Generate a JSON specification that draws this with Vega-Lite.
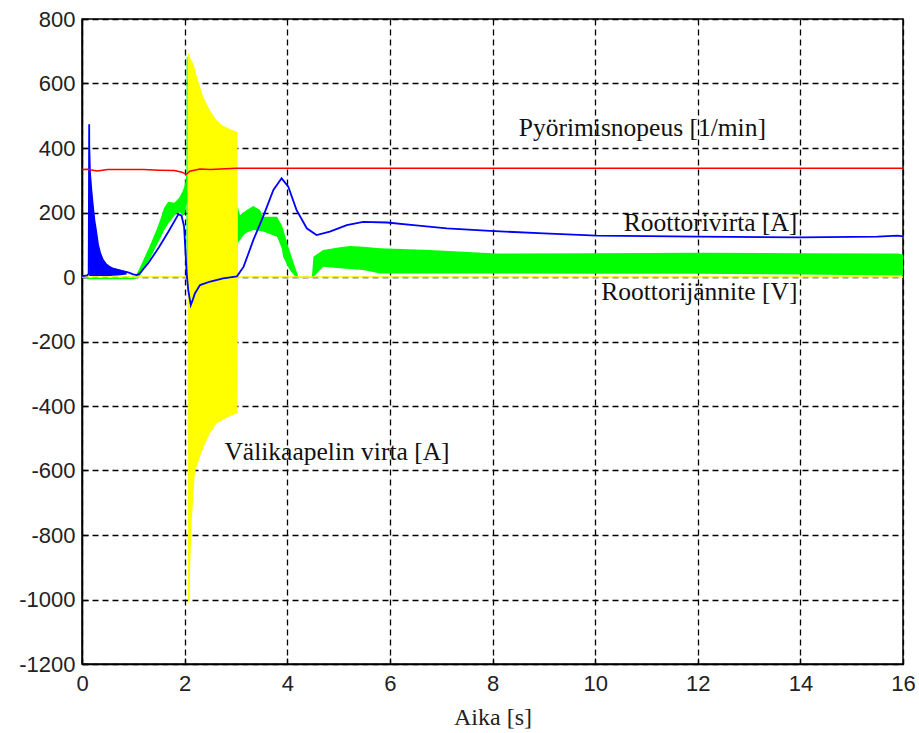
{
  "$schema": "https://vega.github.io/schema/vega-lite/v6.json",
  "width": 821,
  "height": 645,
  "autosize": {"type": "none"},
  "padding": {"left": 82, "top": 19, "right": 16, "bottom": 69},
  "background": "white",
  "config": {
    "view": {"stroke": "black", "strokeWidth": 1.5},
    "axis": {
      "domainColor": "black", "domainWidth": 1.5,
      "grid": true, "gridColor": "black", "gridDash": [6, 4], "gridWidth": 1.3, "gridOpacity": 1,
      "tickColor": "black", "tickSize": -6, "tickWidth": 1.3,
      "labelFont": "Liberation Sans", "labelFontSize": 22, "labelColor": "#222",
      "titleFont": "Liberation Serif", "titleFontSize": 24, "titleFontWeight": "normal", "titleColor": "#222"
    }
  },
  "datasets": {
    "lines": [
      {"s": "red", "t": 0, "v": 333}, {"s": "red", "t": 0.1, "v": 334}, {"s": "red", "t": 0.3, "v": 329}, {"s": "red", "t": 0.5, "v": 333},
      {"s": "red", "t": 1.2, "v": 333}, {"s": "red", "t": 1.5, "v": 331}, {"s": "red", "t": 1.8, "v": 330}, {"s": "red", "t": 1.95, "v": 325},
      {"s": "red", "t": 2.03, "v": 318}, {"s": "red", "t": 2.1, "v": 328}, {"s": "red", "t": 2.3, "v": 335}, {"s": "red", "t": 2.5, "v": 333},
      {"s": "red", "t": 2.7, "v": 335}, {"s": "red", "t": 3.0, "v": 337}, {"s": "red", "t": 16, "v": 337},
      {"s": "yellow", "t": 0, "v": 0}, {"s": "yellow", "t": 16, "v": 0},
      {"s": "blue", "t": 0, "v": 3}, {"s": "blue", "t": 0.1, "v": 5}, {"s": "blue", "t": 0.13, "v": 10}, {"s": "blue", "t": 0.14, "v": 474},
      {"s": "blue", "t": 0.15, "v": 30}, {"s": "blue", "t": 0.6, "v": 25}, {"s": "blue", "t": 0.9, "v": 14}, {"s": "blue", "t": 1.0, "v": 8},
      {"s": "blue", "t": 1.07, "v": 6}, {"s": "blue", "t": 1.12, "v": 10}, {"s": "blue", "t": 1.3, "v": 45}, {"s": "blue", "t": 1.5, "v": 92},
      {"s": "blue", "t": 1.7, "v": 145}, {"s": "blue", "t": 1.88, "v": 195}, {"s": "blue", "t": 1.94, "v": 190}, {"s": "blue", "t": 1.99, "v": 156},
      {"s": "blue", "t": 2.04, "v": 11}, {"s": "blue", "t": 2.07, "v": -40}, {"s": "blue", "t": 2.12, "v": -87}, {"s": "blue", "t": 2.16, "v": -70},
      {"s": "blue", "t": 2.2, "v": -51}, {"s": "blue", "t": 2.3, "v": -25}, {"s": "blue", "t": 2.5, "v": -14}, {"s": "blue", "t": 2.75, "v": -4}, {"s": "blue", "t": 3.02, "v": 2},
      {"s": "blue", "t": 3.15, "v": 32}, {"s": "blue", "t": 3.34, "v": 115}, {"s": "blue", "t": 3.53, "v": 187}, {"s": "blue", "t": 3.73, "v": 270},
      {"s": "blue", "t": 3.89, "v": 306}, {"s": "blue", "t": 4.02, "v": 280}, {"s": "blue", "t": 4.18, "v": 208}, {"s": "blue", "t": 4.38, "v": 151},
      {"s": "blue", "t": 4.57, "v": 130}, {"s": "blue", "t": 4.83, "v": 141}, {"s": "blue", "t": 5.16, "v": 161}, {"s": "blue", "t": 5.48, "v": 171},
      {"s": "blue", "t": 5.94, "v": 169}, {"s": "blue", "t": 6.46, "v": 161}, {"s": "blue", "t": 7.11, "v": 151}, {"s": "blue", "t": 7.95, "v": 143},
      {"s": "blue", "t": 9, "v": 135}, {"s": "blue", "t": 10.03, "v": 128}, {"s": "blue", "t": 12, "v": 125}, {"s": "blue", "t": 14, "v": 123},
      {"s": "blue", "t": 15.5, "v": 125}, {"s": "blue", "t": 15.9, "v": 128}, {"s": "blue", "t": 16, "v": 126}
    ],
    "bands": [
      {"s": "blue", "t": 0.14, "lo": 3, "hi": 474}, {"s": "blue", "t": 0.15, "lo": 3, "hi": 440}, {"s": "blue", "t": 0.17, "lo": 3, "hi": 330},
      {"s": "blue", "t": 0.2, "lo": 3, "hi": 270}, {"s": "blue", "t": 0.23, "lo": 3, "hi": 220}, {"s": "blue", "t": 0.26, "lo": 3, "hi": 175},
      {"s": "blue", "t": 0.29, "lo": 3, "hi": 146}, {"s": "blue", "t": 0.33, "lo": 3, "hi": 100}, {"s": "blue", "t": 0.37, "lo": 3, "hi": 75},
      {"s": "blue", "t": 0.42, "lo": 3, "hi": 55}, {"s": "blue", "t": 0.48, "lo": 3, "hi": 42}, {"s": "blue", "t": 0.55, "lo": 3, "hi": 33},
      {"s": "blue", "t": 0.61, "lo": 4, "hi": 29}, {"s": "blue", "t": 0.7, "lo": 5, "hi": 25}, {"s": "blue", "t": 0.8, "lo": 6, "hi": 20},
      {"s": "blue", "t": 0.87, "lo": 8, "hi": 16},
      {"s": "green", "t": 0.1, "lo": -7, "hi": -2}, {"s": "green", "t": 1.0, "lo": -7, "hi": -2}, {"s": "green", "t": 1.05, "lo": -5, "hi": 5},
      {"s": "green", "t": 1.13, "lo": 5, "hi": 30}, {"s": "green", "t": 1.26, "lo": 40, "hi": 75}, {"s": "green", "t": 1.33, "lo": 58, "hi": 100},
      {"s": "green", "t": 1.46, "lo": 100, "hi": 150}, {"s": "green", "t": 1.52, "lo": 118, "hi": 175}, {"s": "green", "t": 1.6, "lo": 145, "hi": 215},
      {"s": "green", "t": 1.68, "lo": 165, "hi": 233}, {"s": "green", "t": 1.8, "lo": 190, "hi": 230}, {"s": "green", "t": 1.85, "lo": 198, "hi": 238},
      {"s": "green", "t": 1.91, "lo": 200, "hi": 250}, {"s": "green", "t": 1.97, "lo": 190, "hi": 270}, {"s": "green", "t": 2.01, "lo": 200, "hi": 290},
      {"s": "green", "t": 2.035, "lo": 230, "hi": 320}, {"s": "green", "t": 2.04, "lo": 0, "hi": 683}, {"s": "green", "t": 2.058, "lo": 0, "hi": 683},
      {"s": "green", "t": 2.062, "lo": 0, "hi": 0}, {"s": "green", "t": 3.02, "lo": 0, "hi": 0}, {"s": "green", "t": 3.025, "lo": 0, "hi": 218},
      {"s": "green", "t": 3.035, "lo": 104, "hi": 218}, {"s": "green", "t": 3.08, "lo": 115, "hi": 192}, {"s": "green", "t": 3.15, "lo": 130, "hi": 200},
      {"s": "green", "t": 3.21, "lo": 138, "hi": 208}, {"s": "green", "t": 3.34, "lo": 146, "hi": 220}, {"s": "green", "t": 3.47, "lo": 143, "hi": 208},
      {"s": "green", "t": 3.53, "lo": 141, "hi": 187}, {"s": "green", "t": 3.8, "lo": 125, "hi": 187}, {"s": "green", "t": 3.89, "lo": 90, "hi": 161},
      {"s": "green", "t": 3.92, "lo": 63, "hi": 150}, {"s": "green", "t": 4.02, "lo": 30, "hi": 94}, {"s": "green", "t": 4.05, "lo": 22, "hi": 80},
      {"s": "green", "t": 4.15, "lo": 2, "hi": 32}, {"s": "green", "t": 4.22, "lo": -3, "hi": 0}, {"s": "green", "t": 4.48, "lo": -3, "hi": 0},
      {"s": "green", "t": 4.51, "lo": 0, "hi": 63}, {"s": "green", "t": 4.7, "lo": 32, "hi": 84}, {"s": "green", "t": 5.03, "lo": 27, "hi": 92},
      {"s": "green", "t": 5.22, "lo": 25, "hi": 96}, {"s": "green", "t": 5.48, "lo": 22, "hi": 94}, {"s": "green", "t": 5.81, "lo": 11, "hi": 89},
      {"s": "green", "t": 6.78, "lo": 11, "hi": 84}, {"s": "green", "t": 8.08, "lo": 11, "hi": 73}, {"s": "green", "t": 10, "lo": 10, "hi": 74},
      {"s": "green", "t": 12, "lo": 10, "hi": 75}, {"s": "green", "t": 14, "lo": 8, "hi": 74}, {"s": "green", "t": 15.9, "lo": 5, "hi": 73},
      {"s": "green", "t": 16, "lo": 5, "hi": 70},
      {"s": "yellow", "t": 2.058, "lo": 0, "hi": 0}, {"s": "yellow", "t": 2.065, "lo": -1011, "hi": 695}, {"s": "yellow", "t": 2.1, "lo": -1000, "hi": 690},
      {"s": "yellow", "t": 2.105, "lo": -908, "hi": 680}, {"s": "yellow", "t": 2.14, "lo": -753, "hi": 668}, {"s": "yellow", "t": 2.17, "lo": -680, "hi": 662},
      {"s": "yellow", "t": 2.2, "lo": -608, "hi": 645}, {"s": "yellow", "t": 2.23, "lo": -590, "hi": 626}, {"s": "yellow", "t": 2.3, "lo": -557, "hi": 590},
      {"s": "yellow", "t": 2.36, "lo": -530, "hi": 559}, {"s": "yellow", "t": 2.49, "lo": -485, "hi": 518}, {"s": "yellow", "t": 2.62, "lo": -455, "hi": 487},
      {"s": "yellow", "t": 2.72, "lo": -445, "hi": 471}, {"s": "yellow", "t": 2.88, "lo": -432, "hi": 459}, {"s": "yellow", "t": 3.03, "lo": -422, "hi": 450},
      {"s": "yellow", "t": 3.04, "lo": 0, "hi": 0}
    ],
    "labels": [
      {"t": 10.92, "v": 462, "txt": "Pyörimisnopeus [1/min]"},
      {"t": 12.25, "v": 166, "txt": "Roottorivirta [A]"},
      {"t": 12.03, "v": -47, "txt": "Roottorijännite [V]"},
      {"t": 4.97, "v": -543, "txt": "Välikaapelin virta [A]"}
    ]
  },
  "encoding": {
    "x": {"field": "t", "type": "quantitative", "scale": {"domain": [0, 16], "nice": false, "zero": false},
      "axis": {"values": [0, 2, 4, 6, 8, 10, 12, 14, 16], "title": "Aika [s]", "labelPadding": 15, "titlePadding": 11, "labelFlush": false}},
    "y": {"type": "quantitative", "scale": {"domain": [-1200, 800], "nice": false, "zero": false},
      "axis": {"values": [-1200, -1000, -800, -600, -400, -200, 0, 200, 400, 600, 800], "title": null, "labelPadding": 13, "labelFlush": false, "labelExpr": "toString(datum.value)"}}
  },
  "layer": [
    {"data": {"name": "bands"}, "transform": [{"filter": "datum.s == 'green'"}],
      "mark": {"type": "area", "color": "#00ff00", "opacity": 1},
      "encoding": {"y": {"field": "lo", "type": "quantitative"}, "y2": {"field": "hi"}}},
    {"data": {"name": "bands"}, "transform": [{"filter": "datum.s == 'yellow'"}],
      "mark": {"type": "area", "color": "#ffff00", "opacity": 1},
      "encoding": {"y": {"field": "lo", "type": "quantitative"}, "y2": {"field": "hi"}}},
    {"data": {"name": "lines"}, "transform": [{"filter": "datum.s == 'yellow'"}],
      "mark": {"type": "line", "color": "#ffff00", "strokeWidth": 1.5},
      "encoding": {"y": {"field": "v", "type": "quantitative"}}},
    {"data": {"name": "bands"}, "transform": [{"filter": "datum.s == 'blue'"}],
      "mark": {"type": "area", "color": "#0000ff", "opacity": 1},
      "encoding": {"y": {"field": "lo", "type": "quantitative"}, "y2": {"field": "hi"}}},
    {"data": {"name": "lines"}, "transform": [{"filter": "datum.s == 'blue'"}],
      "mark": {"type": "line", "color": "#0000ff", "strokeWidth": 1.8},
      "encoding": {"y": {"field": "v", "type": "quantitative"}}},
    {"data": {"name": "lines"}, "transform": [{"filter": "datum.s == 'red'"}],
      "mark": {"type": "line", "color": "#ff0000", "strokeWidth": 1.5},
      "encoding": {"y": {"field": "v", "type": "quantitative"}}},
    {"data": {"name": "labels"},
      "mark": {"type": "text", "font": "Liberation Serif", "fontSize": 25.5, "color": "#111", "align": "center", "baseline": "middle"},
      "encoding": {"y": {"field": "v", "type": "quantitative"}, "text": {"field": "txt"}}}
  ]
}
